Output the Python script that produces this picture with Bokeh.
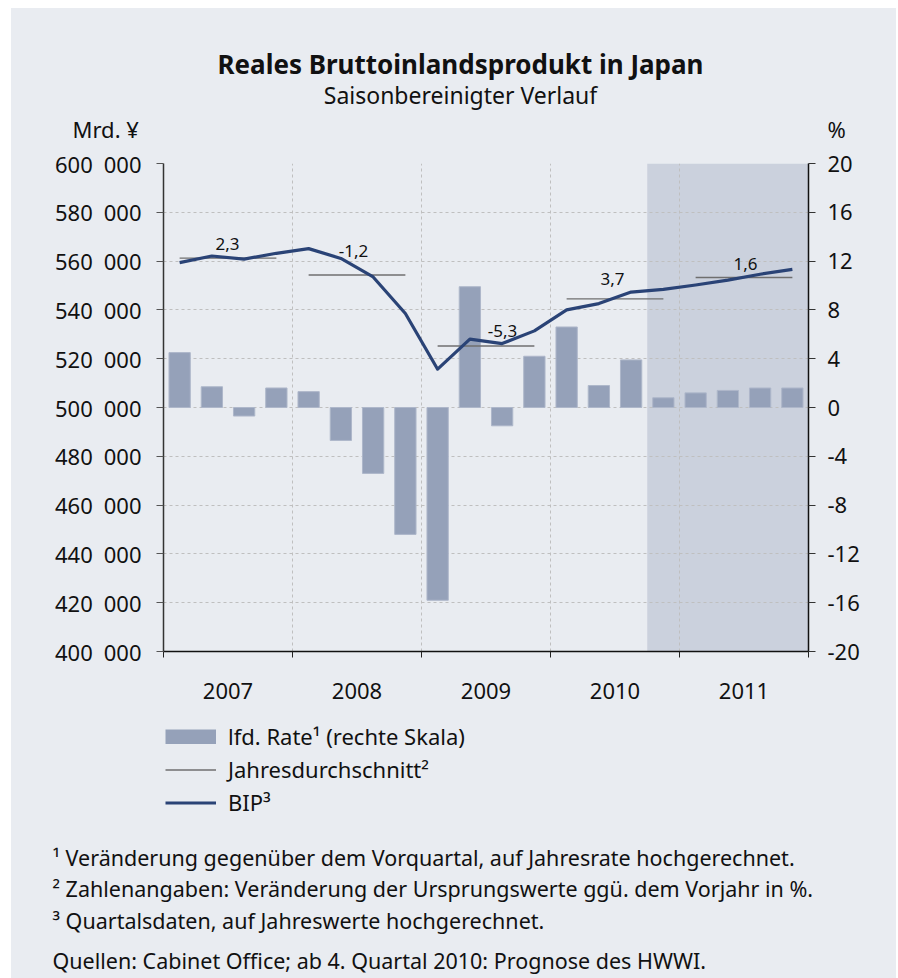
from bokeh.plotting import figure
from bokeh.layouts import column
from bokeh.models import (Range1d, LinearAxis, FixedTicker, Label, Legend, LegendItem,
                          BoxAnnotation, ColumnDataSource)
from bokeh.embed import file_html
from bokeh.resources import INLINE

# ---------------- data ----------------
years = ["2007", "2008", "2009", "2010", "2011"]
quarters = [f"{y}Q{q}" for y in years for q in range(1, 5)]
# real GDP, Mrd. Yen (annualised, seasonally adjusted)
bip = [559400, 562100, 560800, 563200, 565100, 561100, 553500, 538500, 515700, 528000,
       526200, 531400, 540000, 542600, 547300, 548400, 550200, 552200, 554600, 556600]
# quarter-on-quarter change, annualised rate in % (right scale)
rate = [4.5, 1.7, -0.7, 1.6, 1.3, -2.7, -5.4, -10.4, -15.8, 9.9,
        -1.5, 4.2, 6.6, 1.8, 3.9, 0.8, 1.2, 1.4, 1.6, 1.6]
# annual average level (Mrd. Yen) and annual change in %
avg_level = [561200, 554300, 525200, 544500, 553300]
avg_pct = [2.3, -1.2, -5.3, 3.7, 1.6]
forecast_start_quarter = 15   # from 2010 Q4 on: forecast

left_ticks = [400000, 420000, 440000, 460000, 480000, 500000, 520000, 540000, 560000, 580000, 600000]
left_labels = ["400 000", "420 000", "440 000", "460 000", "480 000", "500 000",
               "520 000", "540 000", "560 000", "580 000", "600 000"]
right_ticks = [-20, -16, -12, -8, -4, 0, 4, 8, 12, 16, 20]
right_labels = ["-20", "-16", "-12", "-8", "-4", "0", "4", "8", "12", "16", "20"]

title = "Reales Bruttoinlandsprodukt in Japan"
subtitle = "Saisonbereinigter Verlauf"
unit_left = "Mrd. ¥"
unit_right = "%"
legend_labels = ["lfd. Rate¹ (rechte Skala)", "Jahresdurchschnitt²", "BIP³"]
footnotes = ["¹ Veränderung gegenüber dem Vorquartal, auf Jahresrate hochgerechnet.",
             "² Zahlenangaben: Veränderung der Ursprungswerte ggü. dem Vorjahr in %.",
             "³ Quartalsdaten, auf Jahreswerte hochgerechnet.",
             "Quellen: Cabinet Office; ab 4. Quartal 2010: Prognose des HWWI."]

# ---------------- styling / layout ----------------
FONT = "Noto Sans"
FS = "22px"
BG = "#E9ECF1"
SHADE = "#CBD1DD"
BAR = "#95A1B9"
BAR_EDGE = "#AEB7CA"
LINE = "#2A4376"
AVG = "#6F6F6F"
GRID = "#BFBFBF"
TXT = "#111111"
BAR_W = 0.66
AVG_W = 1.4
LINE_W = 3.2
KEY_W, KEY_H = 51, 15

OX, OY = 11, 8                  # page offset of the panel (white strip)
W = 885
FRAME_L, FRAME_R, FRAME_T, FRAME_B = 163, 808, 163, 651   # page pixels of plot frame
MAIN_TOP_PAD = 15
FOOT_TOP = 713
HEAD_H = FRAME_T - OY - MAIN_TOP_PAD
MAIN_BOT_PAD = FOOT_TOP - FRAME_B
MAIN_H = MAIN_TOP_PAD + (FRAME_B - FRAME_T) + MAIN_BOT_PAD
FOOT_H = 978 - FOOT_TOP


def text_panel(top, height):
    """figure whose data coordinates equal page pixels (y downwards)"""
    f = figure(width=W, height=height, output_backend="svg", toolbar_location=None,
               x_range=Range1d(OX, OX + W), y_range=Range1d(top + height, top),
               x_axis_type=None, y_axis_type=None, min_border=0,
               min_border_left=0, min_border_right=0, min_border_top=0, min_border_bottom=0,
               background_fill_color=BG, border_fill_color=BG, outline_line_color=None)
    f.grid.visible = False
    f.frame_align = False
    return f


def add_text(f, text, x, y, size=FS, align="left", style="normal"):
    f.add_layout(Label(x=x, y=y, text=text, text_align=align, text_baseline="middle",
                       text_font=FONT, text_font_size=size, text_font_style=style,
                       text_color=TXT))


# ---------- header ----------
head = text_panel(OY, HEAD_H)
add_text(head, title, 460, 63, "26px", "center", "bold")
add_text(head, subtitle, 460, 94, "23px", "center")
add_text(head, unit_left, 72, 128)
add_text(head, unit_right, 827, 128)

# ---------- main chart ----------
n = len(quarters)
p = figure(width=W, height=MAIN_H, output_backend="svg", toolbar_location=None,
           x_range=Range1d(0, n), y_range=Range1d(left_ticks[0], left_ticks[-1]),
           min_border_left=FRAME_L - OX, min_border_right=OX + W - FRAME_R,
           min_border_top=MAIN_TOP_PAD, min_border_bottom=MAIN_BOT_PAD,
           background_fill_color=BG, border_fill_color=BG, outline_line_color=None)
p.frame_align = False
p.extra_y_ranges = {"pct": Range1d(right_ticks[0], right_ticks[-1])}

frame_w = FRAME_R - FRAME_L
frame_h = FRAME_B - FRAME_T


def px_x(px):
    return (px - FRAME_L) / frame_w * n


def px_y(px):
    return left_ticks[-1] - (px - FRAME_T) / frame_h * (left_ticks[-1] - left_ticks[0])


p.add_layout(BoxAnnotation(left=forecast_start_quarter, fill_color=SHADE, fill_alpha=1,
                           line_color=None, level="image"))

p.xgrid.ticker = FixedTicker(ticks=[4 * k for k in range(1, len(years))])
p.ygrid.ticker = FixedTicker(ticks=left_ticks[1:])
for g in (p.xgrid, p.ygrid):
    g.grid_line_color = GRID
    g.grid_line_dash = "3 3"
    g.grid_line_width = 1

xc = [i + 0.5 for i in range(n)]
bars = p.vbar(x=xc, top=rate, bottom=0, width=BAR_W, y_range_name="pct",
              fill_color=BAR, line_color=BAR_EDGE, line_width=1)

seg_src = ColumnDataSource(dict(x0=[4 * k + 0.5 for k in range(len(years))],
                                x1=[4 * k + 3.5 for k in range(len(years))],
                                y=avg_level))
segs = p.segment(x0="x0", y0="y", x1="x1", y1="y", source=seg_src,
                 line_color=AVG, line_width=AVG_W)

line = p.line(xc, bip, line_color=LINE, line_width=LINE_W, line_join="round")

lab_pos = [(227, 243), (353, 250), (502, 330), (612, 278), (745, 263)]
for v, (lx, ly) in zip(avg_pct, lab_pos):
    p.add_layout(Label(x=px_x(lx), y=px_y(ly), text=f"{v:.1f}".replace(".", ","),
                       text_align="center", text_baseline="middle",
                       text_font=FONT, text_font_size="17px", text_color=TXT))

xa = p.xaxis[0]
xa.ticker = FixedTicker(ticks=[4 * k + 2 for k in range(len(years))],
                        minor_ticks=[4 * k for k in range(len(years) + 1)])
xa.major_label_overrides = {4 * k + 2: y for k, y in enumerate(years)}
xa.major_tick_out = 0
xa.major_tick_in = 0
xa.minor_tick_out = 6
xa.minor_tick_in = 0
xa.minor_tick_line_color = "#222222"
xa.axis_line_color = "#111111"
xa.axis_line_width = 1.5
xa.major_label_standoff = 25

ya = p.yaxis[0]
ya.ticker = FixedTicker(ticks=left_ticks)
ya.major_label_overrides = {t: l.replace(" ", "\u2002") for t, l in zip(left_ticks, left_labels)}
ya.major_tick_out = 7
ya.major_tick_in = 0
ya.minor_tick_out = 0
ya.minor_tick_in = 0
ya.axis_line_color = "#333333"
ya.major_tick_line_color = "#555555"
ya.axis_line_width = 1.5
ya.major_label_standoff = 15

ra = LinearAxis(y_range_name="pct", ticker=FixedTicker(ticks=right_ticks))
ra.major_label_overrides = {t: l for t, l in zip(right_ticks, right_labels)}
ra.major_tick_out = 7
ra.major_tick_in = 0
ra.minor_tick_out = 0
ra.minor_tick_in = 0
ra.axis_line_color = "#111111"
ra.major_tick_line_color = "#333333"
ra.axis_line_width = 1.5
ra.major_label_standoff = 12
p.add_layout(ra, "right")

for ax in (xa, ya, ra):
    ax.major_label_text_font = FONT
    ax.major_label_text_font_size = FS
    ax.major_label_text_color = TXT

# ---------- footer: legend + notes ----------
foot = text_panel(FOOT_TOP, FOOT_H)
# legend keys: same series, hidden in this panel (only their legend swatches show)
k_bar = foot.line(xc, rate, line_color=BAR, line_width=KEY_H, line_cap="butt", visible=False)
k_avg = foot.segment(x0="x0", y0="y", x1="x1", y1="y", source=seg_src,
                     line_color=AVG, line_width=AVG_W, visible=False)
k_bip = foot.line(xc, bip, line_color=LINE, line_width=LINE_W, visible=False)
legend = Legend(items=[LegendItem(label=legend_labels[0], renderers=[k_bar]),
                       LegendItem(label=legend_labels[1], renderers=[k_avg]),
                       LegendItem(label=legend_labels[2], renderers=[k_bip])],
                location=(165 - OX, 978 - 817), orientation="vertical",
                glyph_width=KEY_W, glyph_height=KEY_H, label_height=20, spacing=3,
                label_standoff=12, padding=0, margin=0, click_policy="none",
                background_fill_alpha=0, border_line_color=None,
                label_text_font=FONT, label_text_font_size=FS, label_text_color=TXT)
foot.add_layout(legend, "center")

fn_y = [857, 888, 920, 960]
for t, y in zip(footnotes, fn_y):
    add_text(foot, t, 52, y, "21.5px")

layout = column(head, p, foot, spacing=0)
layout.margin = (OY, 0, 0, OX)
layout.styles = {"background-color": BG}

open("out.html", "w").write(file_html(layout, INLINE))
